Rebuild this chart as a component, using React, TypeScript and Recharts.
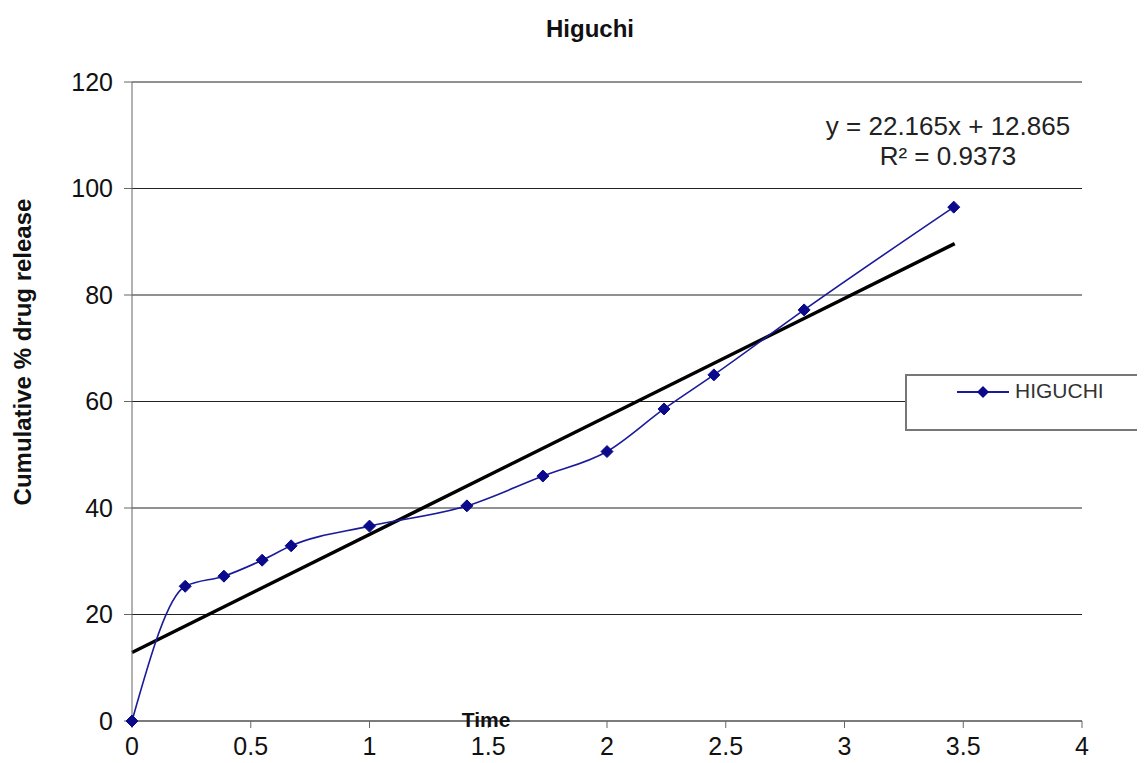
import React from 'react';
import { LineChart, Line, XAxis, YAxis, CartesianGrid } from 'recharts';

// square root of time vs cumulative release
const sqrtTime = [0, 0.224, 0.387, 0.548, 0.67, 1.0, 1.41, 1.73, 2.0, 2.24, 2.45, 2.83, 3.46];
const released = [0, 25.3, 27.2, 30.2, 32.9, 36.6, 40.4, 46.0, 50.6, 58.6, 65.0, 77.2, 96.5];

// linear trend from Excel
const slope = 22.165;
const intercept = 12.865;
const trendX = [0, 3.464];

const xTicks = [0, 0.5, 1, 1.5, 2, 2.5, 3, 3.5, 4];
const yTicks = [0, 20, 40, 60, 80, 100, 120];

const FONT = '"Liberation Sans", Arial, sans-serif';

const Diamond = (props: any) => {
  const { cx, cy } = props;
  if (cx == null || cy == null) return null;
  const r = 6;
  return (
    <path
      d={`M${cx},${cy - r} L${cx + r},${cy} L${cx},${cy + r} L${cx - r},${cy} Z`}
      fill="#0a0a8a"
      stroke="#0a0a8a"
    />
  );
};

const LegendBox = () => (
  <div
    style={{
      position: 'absolute',
      left: 905,
      top: 374,
      width: 260,
      height: 57,
      border: '2px solid #777',
      background: '#fff',
      boxSizing: 'border-box',
      fontFamily: FONT,
    }}
  >
    <svg width={60} height={20} style={{ position: 'absolute', left: 48, top: 6 }}>
      <line x1={2} y1={10} x2={54} y2={10} stroke="#1a1a9a" strokeWidth={2} />
      <path d="M28,4 L34,10 L28,16 L22,10 Z" fill="#0a0a8a" />
    </svg>
    <span style={{ position: 'absolute', left: 108, top: 3, fontSize: 21, color: '#333' }}>HIGUCHI</span>
  </div>
);

export default function App() {
  const data = sqrtTime.map((x, i) => ({ x, y: released[i] }));
  const trend = trendX.map((x) => ({ x, t: slope * x + intercept }));

  return (
    <div style={{ position: 'relative', width: 1145, height: 763, margin: -8, background: '#fff', fontFamily: FONT }}>
      <LineChart width={1145} height={763} margin={{ top: 82, right: 63, bottom: 0, left: 72 }}>
        <CartesianGrid horizontal vertical={false} stroke="#222" strokeWidth={1} />
        <XAxis
          dataKey="x"
          type="number"
          domain={[0, 4]}
          ticks={xTicks}
          height={42}
          stroke="#666"
          tickSize={7}
          tickMargin={9}
          tick={{ fontSize: 25, fill: '#111', fontFamily: FONT }}
        />
        <YAxis
          type="number"
          domain={[0, 120]}
          ticks={yTicks}
          width={60}
          stroke="#666"
          tickSize={8}
          tickMargin={11}
          tick={{ fontSize: 25, fill: '#111', fontFamily: FONT }}
        />
        <Line
          data={trend}
          dataKey="t"
          type="linear"
          stroke="#000"
          strokeWidth={3.5}
          dot={false}
          legendType="none"
          isAnimationActive={false}
        />
        <Line
          data={data}
          dataKey="y"
          name="HIGUCHI"
          type="monotone"
          stroke="#1a1a9a"
          strokeWidth={1.6}
          dot={<Diamond />}
          activeDot={false}
          isAnimationActive={false}
        />
      </LineChart>
      <div style={{ position: 'absolute', left: 0, width: 1180, top: 15, textAlign: 'center', fontWeight: 'bold', fontSize: 24, color: '#111' }}>
        Higuchi
      </div>
      <div
        style={{
          position: 'absolute',
          left: 23,
          top: 352,
          transform: 'translate(-50%, -50%) rotate(-90deg)',
          whiteSpace: 'nowrap',
          fontWeight: 'bold',
          fontSize: 24,
          color: '#111',
        }}
      >
        Cumulative % drug release
      </div>
      <div style={{ position: 'absolute', left: 948, top: 111, transform: 'translateX(-50%)', textAlign: 'center', fontSize: 26, lineHeight: '30px', color: '#222', whiteSpace: 'nowrap' }}>
        y = 22.165x + 12.865
        <br />
        R² = 0.9373
      </div>
      <LegendBox />
      <div style={{ position: 'absolute', left: 486, top: 714, height: 12, lineHeight: '12px', transform: 'translateX(-50%)', fontWeight: 'bold', fontSize: 21, color: '#111' }}>
        Time
      </div>
    </div>
  );
}
